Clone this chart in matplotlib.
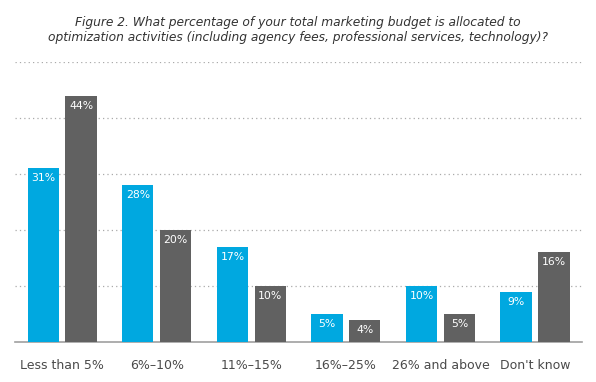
import matplotlib.pyplot as plt
import numpy as np

categories = ['Less than 5%', '6%\u201310%', '11%\u201315%', '16%\u201325%', '26% and above', "Don't know"]
series_a = [31, 28, 17, 5, 10, 9]
series_b = [44, 20, 10, 4, 5, 16]

blue = '#00a8e0'
grey = '#616161'

fig = plt.figure(figsize=(5.96, 3.82), dpi=100)
ax = fig.add_axes([0.025, 0.1047, 0.952, 0.7330])

x = np.arange(len(categories))
w = 0.33
off = 0.2
bars_a = ax.bar(x - off, series_a, w, color=blue, zorder=3)
bars_b = ax.bar(x + off, series_b, w, color=grey, zorder=3)

for bars, vals in ((bars_a, series_a), (bars_b, series_b)):
    for b, v in zip(bars, vals):
        ax.text(b.get_x() + b.get_width() / 2, v - 0.9, '{}%'.format(v),
                ha='center', va='top', color='white', fontsize=7.8, zorder=4)

ax.set_xlim(-0.5, 5.5)
ax.set_ylim(0, 50)
ax.set_yticks([10, 20, 30, 40, 50])
ax.yaxis.grid(True, linestyle=(0, (1, 2.5)), color='#aaaaaa', linewidth=0.9)
ax.set_axisbelow(True)
ax.tick_params(axis='y', left=False, labelleft=False)
ax.tick_params(axis='x', bottom=False, pad=9, labelsize=9, labelcolor='#4a4a4a')
ax.set_xticks(x)
ax.set_xticklabels(categories)
for s in ['top', 'right', 'left']:
    ax.spines[s].set_visible(False)
ax.spines['bottom'].set_color('#a0a0a0')
ax.spines['bottom'].set_linewidth(1.2)

fig.text(0.5, 0.922, 'Figure 2. What percentage of your total marketing budget is allocated to\n'
         'optimization activities (including agency fees, professional services, technology)?',
         ha='center', va='center', style='italic', fontsize=8.8, color='#333333', linespacing=1.2)

fig.savefig('out.png', dpi=100)
